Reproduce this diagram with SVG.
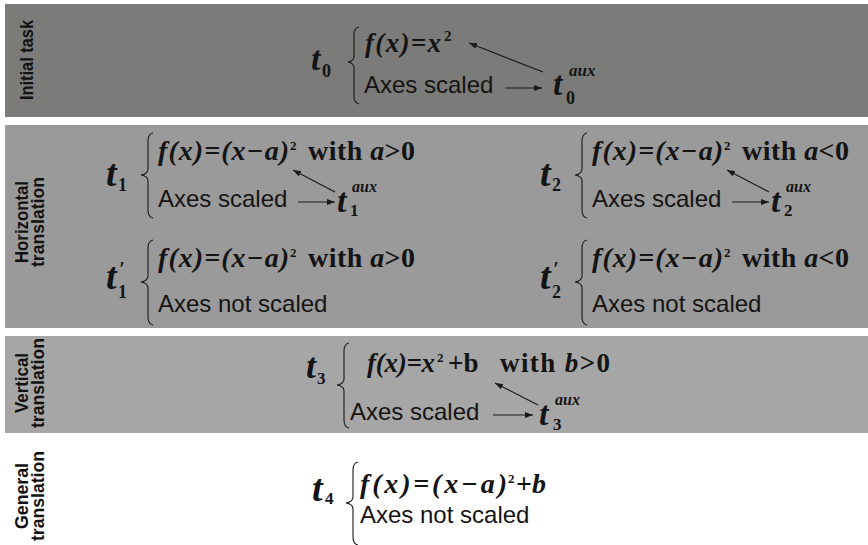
<svg xmlns="http://www.w3.org/2000/svg" width="868" height="545" viewBox="0 0 868 545">
<defs>
<style>
.m{font-family:"Liberation Serif","Times New Roman",serif;font-weight:bold;font-style:italic;fill:#141414}
.u{font-family:"Liberation Serif","Times New Roman",serif;font-weight:bold;font-style:normal;fill:#141414}
.s{font-family:"Liberation Sans",Arial,sans-serif;fill:#141414}
.lbl{font-family:"Liberation Sans",Arial,sans-serif;font-weight:bold;font-size:18px;fill:#111}
.br{fill:none;stroke:#1a1a1a;stroke-width:1.1}
.ar{fill:none;stroke:#1a1a1a;stroke-width:1.2;marker-end:url(#ah)}
</style>
<marker id="ah" viewBox="0 0 8 6" refX="8" refY="3" markerWidth="8" markerHeight="6" markerUnits="userSpaceOnUse" orient="auto">
<path d="M0,0 L8,3 L0,6 z" fill="#1a1a1a"/>
</marker>
</defs>
<rect width="868" height="545" fill="#ffffff"/>
<g id="bands">
<rect x="5" y="4" width="863" height="113" fill="#7b7b79"/>
<rect x="5" y="125" width="863" height="203" fill="#9a9a9a"/>
<rect x="5" y="336" width="863" height="97" fill="#a6a6a6"/>
</g>
<g id="labels">
<text class="lbl" transform="translate(33,60) rotate(-90)" text-anchor="middle" textLength="80" lengthAdjust="spacingAndGlyphs">Initial task</text>
<text class="lbl" transform="translate(28,222) rotate(-90)" text-anchor="middle" textLength="82" lengthAdjust="spacingAndGlyphs">Horizontal</text>
<text class="lbl" transform="translate(44,222) rotate(-90)" text-anchor="middle" textLength="90" lengthAdjust="spacingAndGlyphs">translation</text>
<text class="lbl" transform="translate(28,383) rotate(-90)" text-anchor="middle" textLength="60" lengthAdjust="spacingAndGlyphs">Vertical</text>
<text class="lbl" transform="translate(44,383) rotate(-90)" text-anchor="middle" textLength="90" lengthAdjust="spacingAndGlyphs">translation</text>
<text class="lbl" transform="translate(28,496) rotate(-90)" text-anchor="middle" textLength="66" lengthAdjust="spacingAndGlyphs">General</text>
<text class="lbl" transform="translate(44,496) rotate(-90)" text-anchor="middle" textLength="90" lengthAdjust="spacingAndGlyphs">translation</text>
</g>
<g id="t0">
<text class="m" x="311" y="70" font-size="34">t</text>
<text class="u" x="322" y="77" font-size="18">0</text>
<path class="br" d="M359,27 Q354,28 354,35 L354,56 Q354,61 348,62 Q354,63 354,68 L354,96 Q354,103 359,104"/>
<text class="m" x="365" y="52" font-size="27" textLength="76" lengthAdjust="spacing">f(x)=x</text>
<text class="u" x="444" y="41" font-size="15">2</text>
<text class="s" x="364" y="93" font-size="24">Axes scaled</text>
</g>
<g id="t0aux">
<text class="m" x="553" y="95" font-size="34">t</text>
<text class="m" x="569" y="76" font-size="17">aux</text>
<text class="u" x="566" y="104" font-size="18">0</text>
</g>
<g id="t1">
<text class="m" x="106" y="186" font-size="38">t</text>
<text class="u" x="118" y="191" font-size="18">1</text>
<path class="br" d="M153,133 Q148,134 148,141 L148,169 Q148,174 141,175 Q148,176 148,181 L148,210 Q148,217 153,218"/>
<text class="m" x="158" y="160" font-size="28" textLength="131" lengthAdjust="spacing">f(x)=(x−a)</text>
<text class="u" x="290" y="150" font-size="13">2</text>
<text class="u" x="308" y="160" font-size="28" textLength="107" lengthAdjust="spacing">with <tspan class="m">a</tspan>&gt;0</text>
<text class="s" x="158" y="207" font-size="24">Axes scaled</text>
</g>
<g id="t1aux">
<text class="m" x="337" y="212" font-size="34">t</text>
<text class="m" x="352" y="192" font-size="16">aux</text>
<text class="u" x="350" y="216" font-size="17">1</text>
</g>
<g id="t1p">
<text class="m" x="106" y="289" font-size="38">t</text>
<text class="m" x="119" y="276" font-size="20">′</text>
<text class="u" x="118" y="298" font-size="18">1</text>
<path class="br" d="M153,240 Q148,241 148,248 L148,276 Q148,281 141,282 Q148,283 148,288 L148,317 Q148,324 153,325"/>
<text class="m" x="158" y="267" font-size="28" textLength="131" lengthAdjust="spacing">f(x)=(x−a)</text>
<text class="u" x="290" y="257" font-size="13">2</text>
<text class="u" x="308" y="267" font-size="28" textLength="107" lengthAdjust="spacing">with <tspan class="m">a</tspan>&gt;0</text>
<text class="s" x="158" y="312" font-size="24">Axes not scaled</text>
</g>
<g id="t2" transform="translate(434,0)">
<text class="m" x="106" y="186" font-size="38">t</text>
<text class="u" x="118" y="191" font-size="18">2</text>
<path class="br" d="M153,133 Q148,134 148,141 L148,169 Q148,174 141,175 Q148,176 148,181 L148,210 Q148,217 153,218"/>
<text class="m" x="158" y="160" font-size="28" textLength="131" lengthAdjust="spacing">f(x)=(x−a)</text>
<text class="u" x="290" y="150" font-size="13">2</text>
<text class="u" x="308" y="160" font-size="28" textLength="107" lengthAdjust="spacing">with <tspan class="m">a</tspan>&lt;0</text>
<text class="s" x="158" y="207" font-size="24">Axes scaled</text>
</g>
<g id="t2aux" transform="translate(434,0)">
<text class="m" x="337" y="212" font-size="34">t</text>
<text class="m" x="352" y="192" font-size="16">aux</text>
<text class="u" x="350" y="216" font-size="17">2</text>
</g>
<g id="t2p" transform="translate(434,0)">
<text class="m" x="106" y="289" font-size="38">t</text>
<text class="m" x="119" y="276" font-size="20">′</text>
<text class="u" x="118" y="298" font-size="18">2</text>
<path class="br" d="M153,240 Q148,241 148,248 L148,276 Q148,281 141,282 Q148,283 148,288 L148,317 Q148,324 153,325"/>
<text class="m" x="158" y="267" font-size="28" textLength="131" lengthAdjust="spacing">f(x)=(x−a)</text>
<text class="u" x="290" y="257" font-size="13">2</text>
<text class="u" x="308" y="267" font-size="28" textLength="107" lengthAdjust="spacing">with <tspan class="m">a</tspan>&lt;0</text>
<text class="s" x="158" y="312" font-size="24">Axes not scaled</text>
</g>
<g id="t3">
<text class="m" x="306" y="378" font-size="36">t</text>
<text class="u" x="317" y="384" font-size="17">3</text>
<path class="br" d="M349,343 Q344,344 344,351 L344,379 Q344,384 337,385 Q344,386 344,391 L344,420 Q344,427 349,428"/>
<text class="m" x="367" y="372" font-size="27" textLength="68" lengthAdjust="spacing">f(x)=x</text>
<text class="u" x="437" y="362" font-size="13">2</text>
<text class="u" x="448" y="372" font-size="27">+b</text>
<text class="u" x="500" y="372" font-size="27" textLength="110" lengthAdjust="spacing">with <tspan class="m">b</tspan>&gt;0</text>
<text class="s" x="350" y="420" font-size="24">Axes scaled</text>
</g>
<g id="t3aux">
<text class="m" x="539" y="425" font-size="34">t</text>
<text class="m" x="555" y="405" font-size="16">aux</text>
<text class="u" x="553" y="430" font-size="17">3</text>
</g>
<g id="t4">
<text class="m" x="312" y="501" font-size="38">t</text>
<text class="u" x="325" y="504" font-size="17">4</text>
<path class="br" d="M358,462 Q353,463 353,470 L353,497 Q353,502 346,503 Q353,504 353,509 L353,537 Q353,544 358,545"/>
<text class="m" x="360" y="493" font-size="28" textLength="147" lengthAdjust="spacing">f(x)=(x−a)</text>
<text class="u" x="508" y="483" font-size="13">2</text>
<text class="u" x="516" y="493" font-size="28">+<tspan class="m">b</tspan></text>
<text class="s" x="360" y="523" font-size="24">Axes not scaled</text>
</g>
<g id="connectors">
<line class="ar" x1="505" y1="88" x2="542" y2="88"/>
<line class="ar" x1="543" y1="72" x2="469" y2="43"/>
<line class="ar" x1="298" y1="202" x2="335" y2="202"/>
<line class="ar" x1="335" y1="192" x2="293" y2="170"/>
<line class="ar" x1="732" y1="202" x2="769" y2="202"/>
<line class="ar" x1="769" y1="192" x2="727" y2="170"/>
<line class="ar" x1="493" y1="415" x2="533" y2="415"/>
<line class="ar" x1="538" y1="405" x2="495" y2="383"/>
</g>
</svg>
